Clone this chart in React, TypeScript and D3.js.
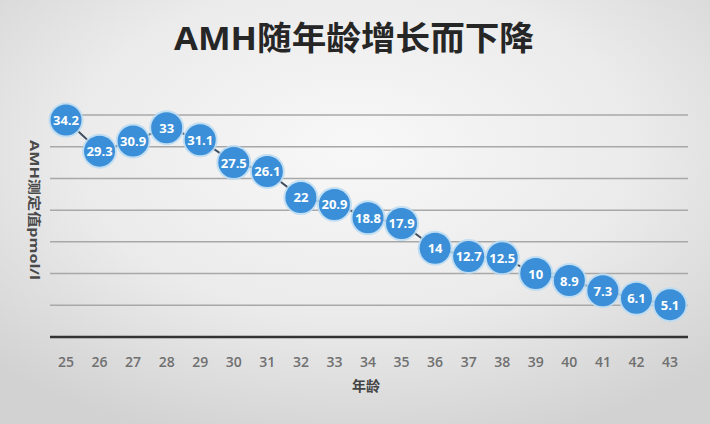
import React from "react";
import * as d3 from "d3";

const ages = [25, 26, 27, 28, 29, 30, 31, 32, 33, 34, 35, 36, 37, 38, 39, 40, 41, 42, 43];
const amhValues = [34.2, 29.3, 30.9, 33, 31.1, 27.5, 26.1, 22, 20.9, 18.8, 17.9, 14, 12.7, 12.5, 10, 8.9, 7.3, 6.1, 5.1];
const gridTicks = [5, 10, 15, 20, 25, 30, 35];

const width = 710;
const height = 424;
const margin = { top: 115, right: 22, bottom: 87, left: 50 };
const font = '"Open Sans", "Noto Sans CJK SC", sans-serif';

export default function App() {
  const x = d3
    .scalePoint<number>()
    .domain(ages)
    .range([66, 670]);

  const y = d3
    .scaleLinear()
    .domain([0, 35])
    .range([height - margin.bottom, margin.top]);

  const line = d3
    .line<number>()
    .x((_, i) => x(ages[i])!)
    .y((d) => y(d));

  return (
    <svg
      width={width}
      height={height}
      style={{ position: "absolute", left: 0, top: 0 }}
    >
      <defs>
        <radialGradient id="bg" cx="50%" cy="35%" r="72%">
          <stop offset="0%" stopColor="#f8f8f8" />
          <stop offset="55%" stopColor="#ebebeb" />
          <stop offset="100%" stopColor="#d2d2d2" />
        </radialGradient>
      </defs>
      <rect width={width} height={height} fill="url(#bg)" />

      {/* title */}
      <text
        x={354}
        y={50}
        textAnchor="middle"
        fontFamily={font}
        fontWeight="bold"
        fontSize={33}
        fill="#262626"
        textLength={360}
        lengthAdjust="spacingAndGlyphs"
      >
        AMH随年龄增长而下降
      </text>

      {/* grid */}
      {gridTicks.map((t) => (
        <line
          key={t}
          x1={margin.left}
          x2={width - margin.right}
          y1={y(t)}
          y2={y(t)}
          stroke="#a8a8a8"
          strokeWidth={1.5}
        />
      ))}
      <line
        x1={margin.left}
        x2={width - margin.right}
        y1={y(0)}
        y2={y(0)}
        stroke="#333"
        strokeWidth={2.5}
      />

      {/* x ticks */}
      {ages.map((a) => (
        <text
          key={a}
          x={x(a)}
          y={367}
          textAnchor="middle"
          fontFamily={font}
          fontWeight={600}
          fontSize={14}
          fill="#707070"
        >
          {a}
        </text>
      ))}
      <text
        x={366}
        y={391}
        textAnchor="middle"
        fontFamily={font}
        fontWeight="bold"
        fontSize={14}
        fill="#444"
      >
        年龄
      </text>

      {/* y title */}
      <text
        transform={`translate(30,${210}) rotate(90)`}
        textAnchor="middle"
        fontFamily={font}
        fontWeight="bold"
        fontSize={13}
        fill="#4a4a4a"
        textLength={140}
        lengthAdjust="spacingAndGlyphs"
      >
        AMH测定值pmol/l
      </text>

      {/* line + points */}
      <path d={line(amhValues) ?? ""} fill="none" stroke="#3f4f5f" strokeWidth={2} />
      {amhValues.map((v, i) => (
        <g key={i} transform={`translate(${x(ages[i])},${y(v)})`}>
          <circle r={17.5} fill="#b9daf3" opacity={0.85} />
          <circle r={15.5} fill="#3b8fd8" />
          <text
            y={5}
            textAnchor="middle"
            fontFamily={font}
            fontWeight="bold"
            fontSize={13}
            fill="#ffffff"
          >
            {v}
          </text>
        </g>
      ))}
    </svg>
  );
}
